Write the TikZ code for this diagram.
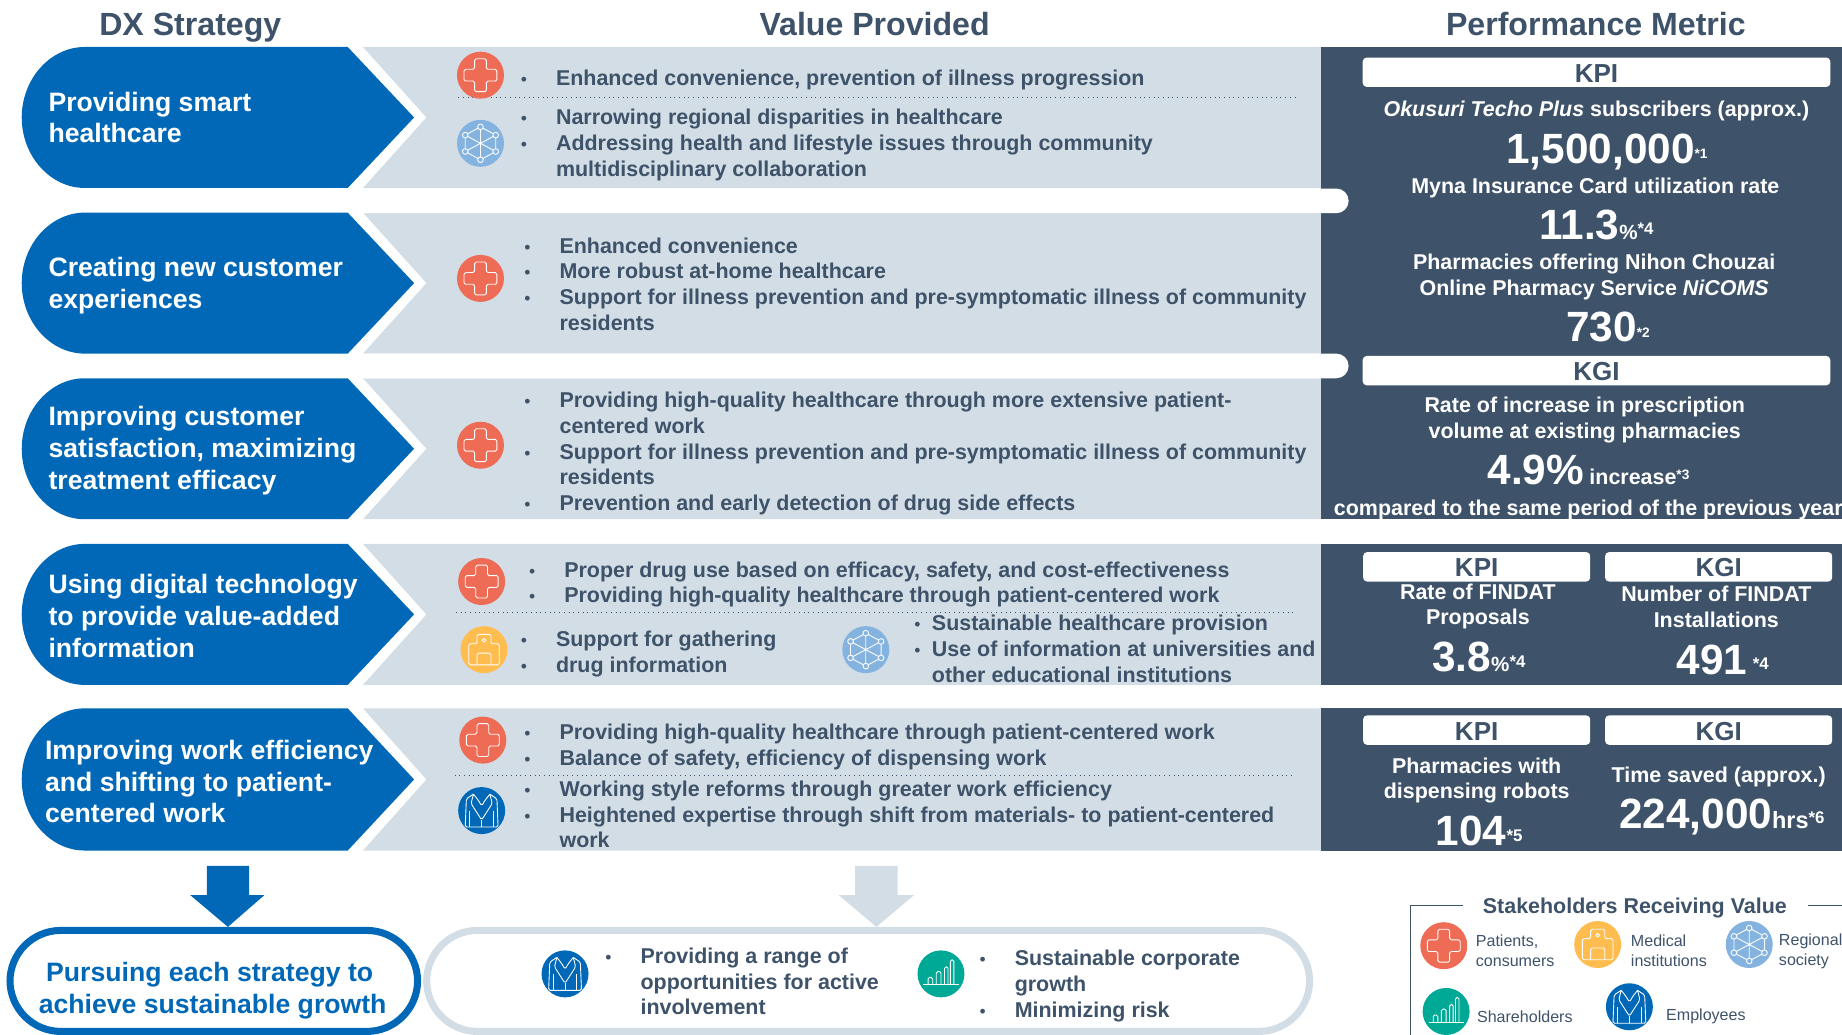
\documentclass[tikz,border=0pt]{standalone}
\usepackage{fontspec}
\setmainfont{Liberation Sans}
\definecolor{navy}{HTML}{3E5369}
\definecolor{blueA}{HTML}{0068B7}
\definecolor{band}{HTML}{D2DDE6}
\definecolor{redI}{HTML}{EE6C55}
\definecolor{skyI}{HTML}{84B3E0}
\definecolor{yelI}{HTML}{FFBD4F}
\definecolor{tealI}{HTML}{00A896}
\newlength{\bw}
\newcommand{\bu}{\makebox[\bw][l]{\fontsize{9}{8}\selectfont\mdseries •}}
\newcommand{\nb}{\hspace*{\bw}}
\newcommand{\bigN}[1]{{\fontsize{21.6}{24}\selectfont #1}}
\newcommand{\smN}[1]{{\fontsize{10.5}{12}\selectfont #1}}
\newcommand{\stN}[1]{\raisebox{2.4pt}{\fontsize{7}{8}\selectfont #1}}
\newcommand{\stB}[1]{\raisebox{2.4pt}{\fontsize{8.6}{10}\selectfont #1}}
\tikzset{
 x=0.6pt,y=-0.6pt,
 head/.style={font=\fontsize{16.4}{19}\selectfont\bfseries,text=navy,inner sep=0pt,anchor=base},
 strat/.style={font=\fontsize{13.6}{16.2}\selectfont\bfseries,text=white,inner sep=0pt,anchor=base west,align=left},
 body/.style={font=\fontsize{10.95}{13.15}\selectfont\bfseries,text=navy,inner sep=0pt,anchor=base west,align=left},
 met/.style={font=\fontsize{10.95}{13.15}\selectfont\bfseries,text=white,inner sep=0pt,anchor=base,align=center},
 num/.style={font=\bfseries,text=white,inner sep=0pt,anchor=base west},
 tag/.style={font=\fontsize{13.3}{15}\selectfont\bfseries,text=navy,inner sep=0pt,anchor=base},
 tagbox/.style={fill=white,rounded corners=2pt},
 goal/.style={font=\fontsize{13.6}{16.2}\selectfont\bfseries,text=blueA,inner sep=0pt,anchor=base,align=center},
 leg/.style={font=\fontsize{8.2}{9.9}\selectfont,text=navy,inner sep=0pt,anchor=base west,align=left},
 sep/.style={navy,line width=0.4pt,dotted},
 ico/.style={white,line width=0.45pt,rounded corners=0.8pt},
}
\newcommand{\iplus}[2]{\begin{scope}[shift={(#1,#2)}]
 \fill[redI] (0,0) circle[radius=20];
 \draw[ico] (-5,-14)--(5,-14)--(5,-5)--(14,-5)--(14,5)--(5,5)--(5,14)--(-5,14)--(-5,5)--(-14,5)--(-14,-5)--(-5,-5)--cycle;
\end{scope}}
\newcommand{\inet}[2]{\begin{scope}[shift={(#1,#2)}]
 \fill[skyI] (0,0) circle[radius=20];
 \draw[ico] (0,-14)--(13,-7)--(13,7)--(0,14)--(-13,7)--(-13,-7)--cycle;
 \draw[ico] (0,-14)--(0,14) (-13,-7)--(13,7) (13,-7)--(-13,7);
 \foreach \a/\b in {0/-14,13/-7,13/7,0/14,-13/7,-13/-7}{\fill[skyI] (\a,\b) circle[radius=2.4];\draw[white,line width=0.45pt] (\a,\b) circle[radius=2.4];}
\end{scope}}
\newcommand{\ihosp}[2]{\begin{scope}[shift={(#1,#2)}]
 \fill[yelI] (0,0) circle[radius=20];
 \draw[ico] (-6,-5)--(-6,-13)--(6,-13)--(6,-5)--(13,-5)--(13,13)--(-13,13)--(-13,-5)--cycle;
 \draw[ico] (-6,13)--(-6,3)--(6,3)--(6,13);
 \draw[white,line width=0.45pt] (0,-8) circle[radius=1.6];
\end{scope}}
\newcommand{\icoat}[2]{\begin{scope}[shift={(#1,#2)}]
 \fill[blueA] (0,0) circle[radius=20];
 \draw[ico] (-7,-14)--(-13,-10)--(-14,14)--(14,14)--(13,-10)--(7,-14);
 \draw[ico] (-7,-14)--(-9,-6)--(0,8)--(9,-6)--(7,-14) (-7,-14)--(-3,-9)--(0,-4)--(3,-9)--(7,-14);
 \draw[ico] (0,8)--(0,14) (-10,0)--(-10,14) (10,0)--(10,14);
\end{scope}}
\newcommand{\ichart}[2]{\begin{scope}[shift={(#1,#2)}]
 \fill[tealI] (0,0) circle[radius=20];
 \draw[ico] (-15,9)--(15,9);
 \draw[ico] (-11,9)--(-11,3)--(-7,3)--(-7,9) (-4,9)--(-4,-2)--(0,-2)--(0,9) (3,9)--(3,-6)--(6,-6)--(6,9) (8,9)--(8,-12)--(11,-12)--(11,9);
\end{scope}}
\newcommand{\strip}[2]{% top, bottom
 \fill[band] (309,#1)--(1125,#1)--(1125,#2)--(309,#2)--(363,{(#1+#2)/2})--cycle;
 \fill[blueA] (296,#1)--(352.5,{(#1+#2)/2})--(296,#2)--(72,#2)
   .. controls (43,#2) and (18.5,{#2-27}) .. (18.5,{(#1+#2)/2})
   .. controls (18.5,{#1+27}) and (43,#1) .. (72,#1) --cycle;}
\begin{document}
\begin{tikzpicture}
\useasboundingbox (0,0) rectangle (1568,881);
\clip (0,0) rectangle (1568,881);
% headers
\node[head] (h1) at (162,30.5) {DX Strategy};
\node[head] (h2) at (744.5,30.5) {Value Provided};
\node[head] (h3) at (1358.5,30.5) {Performance Metric};
% strips
\strip{40}{160}\strip{181}{301}\strip{322}{442}\strip{463}{583}\strip{603}{724}
% panels
\fill[navy] (1124.6,40) rectangle (1568,442);
\fill[navy] (1124.6,463) rectangle (1568,583);
\fill[navy] (1124.6,603) rectangle (1568,724);
% tabs between the first strips
\fill[white] (300,160.5) -- (1137.5,160.5) arc[start angle=-90,end angle=90,x radius=10.5,y radius=10.5] -- (300,181.5) -- cycle;
\fill[white] (300,301) -- (1137.5,301) arc[start angle=-90,end angle=90,x radius=10.5,y radius=10.5] -- (300,322) -- cycle;
% strategies
\node[strat] (s1) at (41,121.5) {Providing smart\\healthcare};
\node[strat] (s2) at (41,262.5) {Creating new customer\\experiences};
\node[strat] (s3) at (41,416.5) {Improving customer\\satisfaction, maximizing\\treatment efficacy};
\node[strat] (s4) at (41,559.5) {Using digital technology\\to provide value-added\\information};
\node[strat] (s5) at (38,700.5) {Improving work efficiency\\and shifting to patient-\\centered work};
% dotted separators
\coordinate (d1a) at (390,83);\coordinate (d1b) at (1104,83);
\coordinate (d2a) at (388,521);\coordinate (d2b) at (1102,521);
\coordinate (d3a) at (387,660);\coordinate (d3b) at (1102,660);
\draw[sep] (d1a)--(d1b);\draw[sep] (d2a)--(d2b);\draw[sep] (d3a)--(d3b);
% icons
\iplus{409}{64}\inet{409}{122}\iplus{409}{237}\iplus{409}{379}
\iplus{410}{495}\ihosp{412}{553}\inet{737}{553}
\iplus{411}{630}\icoat{410}{690}
% value text
\setlength{\bw}{18pt}
\node[body] (v1) at (443,72.5) {\bu Enhanced convenience, prevention of illness progression};
\node[body] (v2) at (443,150) {\bu Narrowing regional disparities in healthcare\\\bu Addressing health and lifestyle issues through community\\\nb multidisciplinary collaboration};
\node[body] (v3) at (446,281.2) {\bu Enhanced convenience\\\bu More robust at-home healthcare\\\bu Support for illness prevention and pre-symptomatic illness of community\\\nb residents};
\node[body] (v4) at (446,434.7) {\bu Providing high-quality healthcare through more extensive patient-\\\nb centered work\\\bu Support for illness prevention and pre-symptomatic illness of community\\\nb residents\\\bu Prevention and early detection of drug side effects};
\node[body] (v5) at (450,513.2) {\bu Proper drug use based on efficacy, safety, and cost-effectiveness\\\bu Providing high-quality healthcare through patient-centered work};
\node[body] (v6) at (443,572.2) {\bu Support for gathering\\\bu drug information};
\node[body] (v8) at (446,651.7) {\bu Providing high-quality healthcare through patient-centered work\\\bu Balance of safety, efficiency of dispensing work};
\node[body] (v9) at (446,721.8) {\bu Working style reforms through greater work efficiency\\\bu Heightened expertise through shift from materials- to patient-centered\\\nb work};
\setlength{\bw}{9pt}
\node[body] (v7) at (778,580.8) {\bu Sustainable healthcare provision\\\bu Use of information at universities and\\\nb other educational institutions};
% metrics: block 1
\node[tagbox,minimum width=238.8pt,minimum height=15pt,inner sep=0pt] (kb1) at (1359,61.5) {};
\node[tag] (kt1) at (1359,70) {KPI};
\node[met] (m1) at (1359,99.5) {\textit{Okusuri Techo Plus} subscribers (approx.)};
\node[num] (n1) at (1282,139) {\bigN{1,500,000}\stN{*1}};
\node[met] (m2) at (1358,164.5) {Myna Insurance Card utilization rate};
\node[num] (n2) at (1310,204) {\bigN{11.3}\smN{\%}\stB{*4}};
\node[met] (m3) at (1357,251.7) {Pharmacies offering Nihon Chouzai\\Online Pharmacy Service \textit{NiCOMS}};
\node[num] (n3) at (1333,291) {\bigN{730}\stN{*2}};
\node[tagbox,minimum width=238.8pt,minimum height=15pt,inner sep=0pt] (kb2) at (1359,315.5) {};
\node[tag] (kt2) at (1359,323.5) {KGI};
\node[met] (m4) at (1349,373.2) {Rate of increase in prescription\\volume at existing pharmacies};
\node[num] (n4) at (1266,412) {\bigN{4.9\%} {\fontsize{10.95}{13}\selectfont increase}\stN{*3}};
\node[met] (m5) at (1352,438.5) {compared to the same period of the previous year};
% metrics: block 2
\node[tagbox,minimum width=116pt,minimum height=15pt,inner sep=0pt] (kb3) at (1257,482.5) {};
\node[tag] (kt3) at (1257,491) {KPI};
\node[tagbox,minimum width=116pt,minimum height=15pt,inner sep=0pt] (kb4) at (1463,482.5) {};
\node[tag] (kt4) at (1463,491) {KGI};
\node[met] (m6) at (1258,532) {Rate of FINDAT\\Proposals};
\node[met] (m7) at (1461,534) {Number of FINDAT\\Installations};
\node[num] (n5) at (1219,572) {\bigN{3.8}\smN{\%}\stB{*4}};
\node[num] (n6) at (1427,574) {\bigN{491} \stB{*4}};
% metrics: block 3
\node[tagbox,minimum width=116pt,minimum height=15pt,inner sep=0pt] (kb5) at (1257,621.5) {};
\node[tag] (kt5) at (1257,630) {KPI};
\node[tagbox,minimum width=116pt,minimum height=15pt,inner sep=0pt] (kb6) at (1463,621.5) {};
\node[tag] (kt6) at (1463,630) {KGI};
\node[met] (m8) at (1257,680) {Pharmacies with\\dispensing robots};
\node[met] (m9) at (1463,666) {Time saved (approx.)};
\node[num] (n7) at (1222,720) {\bigN{104}\stB{*5}};
\node[num] (n8) at (1378,705) {\bigN{224,000}{\fontsize{12}{14}\selectfont hrs}\stB{*6}};
% bottom arrows
\fill[blueA] (176,737)--(212,737)--(212,762)--(225,762)--(194,789)--(162,762)--(176,762)--cycle;
\fill[band] (728,737)--(764,737)--(764,762)--(778,762)--(746,789)--(714,762)--(728,762)--cycle;
% pills
\node[draw=blueA,line width=3.6pt,rounded corners=26pt,minimum width=208.2pt,minimum height=51.6pt,inner sep=0pt] (p1) at (182,835) {};
\node[draw=band,line width=3.6pt,rounded corners=26pt,minimum width=451pt,minimum height=51.6pt,inner sep=0pt] (p2) at (739,835) {};
\node[goal] (g1) at (181,862.5) {Pursuing each strategy to\hspace*{3pt}\\achieve sustainable growth};
\icoat{481}{829}\ichart{801}{829}
\setlength{\bw}{18pt}
\node[body] (b1) at (515,864) {\bu Providing a range of\\\nb opportunities for active\\\nb involvement};
\node[body] (b2) at (833.5,866) {\bu Sustainable corporate\\\nb growth\\\bu Minimizing risk};
% legend
\coordinate (la) at (1245,771);\coordinate (lb) at (1201,771);\coordinate (lc) at (1201,885);
\coordinate (ld) at (1539,771);\coordinate (le) at (1570,771);
\draw[navy,line width=0.5pt] (la)--(lb)--(lc);
\draw[navy,line width=0.5pt] (ld)--(le);
\node[body] (lt) at (1262,778) {Stakeholders Receiving Value};
\iplus{1229}{805}\ihosp{1360}{804}\inet{1489}{804}\ichart{1231}{861}\icoat{1387}{857}
\node[leg] (l1) at (1256,822.5) {Patients,\\consumers};
\node[leg] (l2) at (1388,822.5) {Medical\\institutions};
\node[leg] (l3) at (1514,821.5) {Regional\\society};
\node[leg] (l4) at (1257,870) {Shareholders};
\node[leg] (l5) at (1418,869) {Employees};
\end{tikzpicture}
\end{document}
